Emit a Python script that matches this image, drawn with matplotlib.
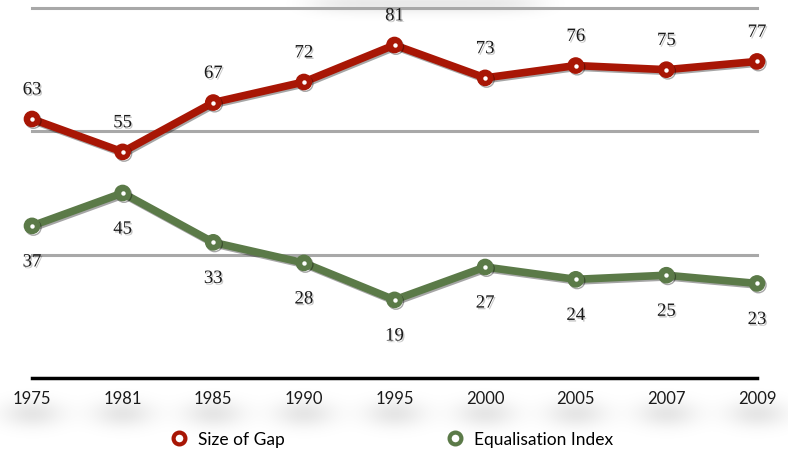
import numpy as np
import matplotlib
matplotlib.use("Agg")
import matplotlib.pyplot as plt
import matplotlib.patheffects as pe
from matplotlib.lines import Line2D

years = ["1975", "1981", "1985", "1990", "1995", "2000", "2005", "2007", "2009"]
size_of_gap = [63, 55, 67, 72, 81, 73, 76, 75, 77]
equalisation_index = [37, 45, 33, 28, 19, 27, 24, 25, 23]
series_names = ["Size of Gap", "Equalisation Index"]

RED = "#a81605"
GREEN = "#5b7a48"
LABEL_FONT = ["Liberation Serif", "DejaVu Serif"]
TICK_FONT = ["Lato", "DejaVu Sans"]

W, H = 788, 452
fig = plt.figure(figsize=(W / 100, H / 100), dpi=100)
ax = fig.add_axes([32 / W, (H - 379) / H, (757 - 32) / W, (379 - 9) / H])
ax.patch.set_alpha(0)
x = list(range(len(years)))

ax.set_xlim(0, len(years) - 1)
ax.set_ylim(0, 90)
for g in (30, 60, 90):
    ax.axhline(g, color="#a8a8a8", lw=2.2, zorder=1, clip_on=False)
ax.axhline(0, color="black", lw=2.5, zorder=1, clip_on=False)

# soft drop-shadow haze beneath the category labels and along the top edge
yy, xx = np.mgrid[0:H, 0:W]
haze = np.zeros((H, W))
for xi in x:
    px = ax.transData.transform((xi, 0))[0]
    haze += 0.10 * np.exp(-((xx - px) / 30.0) ** 2 - ((yy - 414) / 14.0) ** 2)
haze += 0.09 * np.exp(-((xx - 425) / 115.0) ** 6 - ((yy - 4) / 10.0) ** 2)
haze = np.clip(haze, 0, 1)
rgba = np.zeros((H, W, 4))
rgba[..., 3] = haze
bg = fig.add_axes([0, 0, 1, 1], zorder=-1)
bg.imshow(rgba, extent=(0, W, H, 0), aspect="auto", interpolation="bilinear")
bg.set_xlim(0, W)
bg.set_ylim(H, 0)
bg.axis("off")

line_fx = [pe.SimpleLineShadow(offset=(1.0, -1.2), shadow_color="black", alpha=0.35), pe.Normal()]
text_fx = [pe.withSimplePatchShadow(offset=(1.0, -1.2), shadow_rgbFace="black", alpha=0.22)]

for vals, col, dy in ((size_of_gap, RED, 21), (equalisation_index, GREEN, -26)):
    ax.plot(x, vals, color=col, lw=5.5, marker="o", ms=11, mfc=col, mec=col,
            zorder=3, clip_on=False, solid_joinstyle="round", path_effects=line_fx)
    ax.plot(x, vals, ls="none", marker="o", ms=3.2, mfc="white", mec="none",
            zorder=4, clip_on=False)
    for xi, v in zip(x, vals):
        ax.annotate(str(v), (xi, v), xytext=(0, dy), textcoords="offset points",
                    ha="center", va="center", fontsize=13.5, family=LABEL_FONT,
                    color="#1a1a1a", zorder=5, path_effects=text_fx)

ax.set_xticks(x)
ax.set_xticklabels(years, family=TICK_FONT, fontsize=12, color="#1a1a1a")
ax.tick_params(axis="x", length=0, pad=9)
ax.set_yticks([])
for s in ax.spines.values():
    s.set_visible(False)

handles = [Line2D([], [], ls="none", marker="o", ms=8.5, mfc="white", mec=RED, mew=3),
           Line2D([], [], ls="none", marker="o", ms=8.5, mfc="white", mec=GREEN, mew=3)]
fig.legend(handles, series_names, loc="center", bbox_to_anchor=(0.497, 12 / H),
           ncol=2, frameon=False, columnspacing=9.3, handlelength=1.0,
           handletextpad=0.6, prop={"family": TICK_FONT, "size": 12.5})

fig.savefig("out.png", dpi=100)
